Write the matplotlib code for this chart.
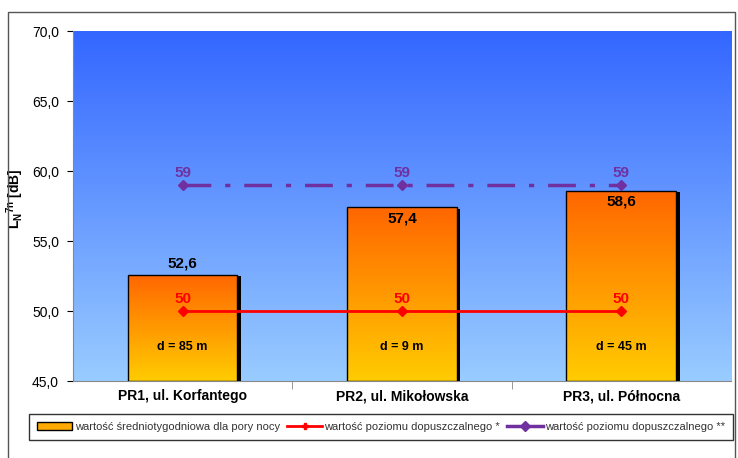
import numpy as np
import matplotlib.pyplot as plt
import matplotlib.patheffects as pe
from matplotlib.patches import Patch, Rectangle
from matplotlib.lines import Line2D

plt.rcParams['font.family'] = ['Liberation Sans', 'DejaVu Sans']

points = ['PR1, ul. Korfantego', 'PR2, ul. Mikołowska', 'PR3, ul. Północna']
night_avg = [52.6, 57.4, 58.6]
limit_1 = [50, 50, 50]
limit_2 = [59, 59, 59]
distances = ['d = 85 m', 'd = 9 m', 'd = 45 m']
yticks = [45, 50, 55, 60, 65, 70]

fig = plt.figure(figsize=(7.38, 4.58), dpi=100)
ax = fig.add_axes([0.0989, 0.1681, 0.8916, 0.7642])
x = np.arange(len(points))

# niebieskie tło z gradientem
grad = np.linspace(0, 1, 256).reshape(-1, 1)
bg = np.zeros((256, 1, 3))
top_c = np.array([0x33, 0x66, 0xFF]) / 255
bot_c = np.array([0x99, 0xCC, 0xFF]) / 255
bg[:, 0, :] = top_c + (bot_c - top_c) * grad
ax.imshow(bg, extent=[-0.5, 2.5, 45, 70], aspect='auto', zorder=0)

# słupki z gradientem pomarańczowym
bars = ax.bar(x, night_avg, width=0.5, bottom=0, facecolor='#FF9900', edgecolor='none',
              zorder=2, path_effects=[pe.SimplePatchShadow(offset=(2.5, -1), shadow_rgbFace='black', alpha=1),
                                      pe.Normal()])
bar_grad = np.zeros((256, 1, 3))
o_top = np.array([0xFF, 0x66, 0x00]) / 255
o_bot = np.array([0xFF, 0xCC, 0x00]) / 255
bar_grad[:, 0, :] = o_top + (o_bot - o_top) * grad
for b, v in zip(bars, night_avg):
    im = ax.imshow(bar_grad, extent=[b.get_x(), b.get_x() + b.get_width(), 45, v],
                   aspect='auto', zorder=2.5)
    im.set_clip_path(b)
    ax.add_patch(Rectangle((b.get_x(), 45), b.get_width(), v - 45, fill=False,
                           edgecolor='black', lw=1, zorder=3))

ax.plot(x, limit_1, color='#FF0000', lw=2, marker='D', ms=5, zorder=4)
ax.plot(x, limit_2, color='#7030A0', lw=2.5, ls=(0, (8, 4, 1.5, 4)), marker='D', ms=5, zorder=4)

for i in range(len(points)):
    ax.text(x[i], limit_1[i] + 0.35, str(limit_1[i]), color='#FF0000', fontsize=11,
            fontweight='bold', ha='center', va='bottom', zorder=5)
    ax.text(x[i], limit_2[i] + 0.35, str(limit_2[i]), color='#7030A0', fontsize=11,
            fontweight='bold', ha='center', va='bottom', zorder=5)
    ax.text(x[i], 47.4, distances[i], fontsize=9, fontweight='bold', ha='center', va='center', zorder=5)
    lbl = f'{night_avg[i]:.1f}'.replace('.', ',')
    if i == 0:
        ax.text(x[i], night_avg[i] + 0.3, lbl, fontsize=11, fontweight='bold', ha='center', va='bottom', zorder=5)
    else:
        ax.text(x[i], night_avg[i] - 0.3, lbl, fontsize=11, fontweight='bold', ha='center', va='top', zorder=5)

ax.set_xlim(-0.5, 2.5)
ax.set_ylim(45, 70)
ax.set_yticks(yticks)
ax.set_yticklabels([f'{t:.1f}'.replace('.', ',') for t in yticks], fontsize=10)
ax.tick_params(axis='y', length=4, color='black', pad=6)
ax.set_xticks(x)
ax.set_xticklabels(points, fontsize=10, fontweight='bold')
ax.tick_params(axis='x', length=0, pad=6)
ax.set_xticks([0.5, 1.5], minor=True)
ax.tick_params(axis='x', which='minor', length=6, color='#888888')
for s in ['top', 'right']:
    ax.spines[s].set_visible(False)
ax.spines['left'].set_color('#888888')
ax.spines['bottom'].set_color('#888888')
ax.set_ylabel('L$_{\\mathregular{N}}$$^{\\mathregular{7n}}$ [dB]', fontsize=10, fontweight='bold')
ax.yaxis.set_label_coords(-0.072, 0.52)

handles = [Patch(facecolor='#FFAA00', edgecolor='black', lw=1),
           Line2D([], [], color='#FF0000', lw=2, marker='P', ms=5),
           Line2D([], [], color='#7030A0', lw=2.5, marker='D', ms=5)]
labels = ['wartość średniotygodniowa dla pory nocy',
          'wartość poziomu dopuszczalnego *',
          'wartość poziomu dopuszczalnego **']
leg = fig.legend(handles, labels, loc='lower left',
                 bbox_to_anchor=(29 / 738, 1 - 440 / 458, 704 / 738, 28 / 458), mode='expand', ncol=3,
                 fontsize=8, frameon=True, fancybox=False, edgecolor='black',
                 handlelength=3.2, handletextpad=0.2, borderpad=0.7, borderaxespad=0)
leg.get_frame().set_linewidth(1)
for t in leg.get_texts():
    t.set_color('#333333')

fig.patches.append(Rectangle((8 / 738, -0.1), 727 / 738, 1.1 - 12 / 458, fill=False,
                             edgecolor='#555555', lw=1, transform=fig.transFigure))

fig.savefig('out.png', dpi=100)
